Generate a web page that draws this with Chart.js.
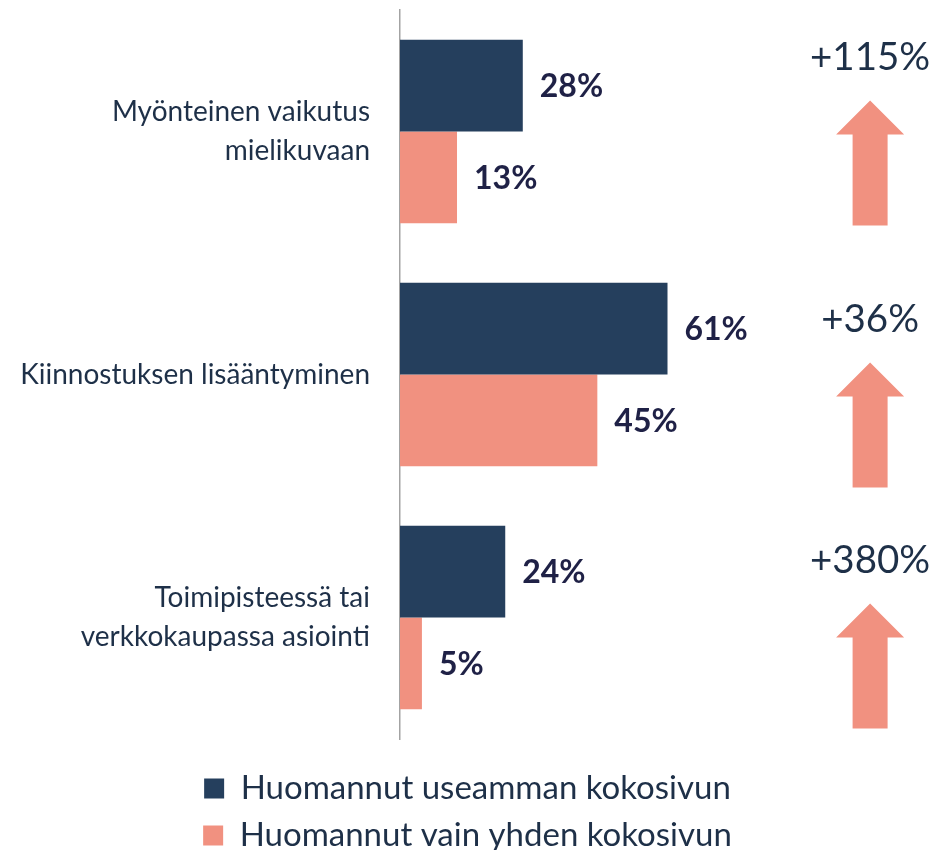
<!DOCTYPE html>
<html>
<head>
<meta charset="utf-8">
<script src="https://cdn.jsdelivr.net/npm/chart.js@4/dist/chart.umd.min.js"></script>
<style>
  html, body { margin: 0; padding: 0; background: #fff; overflow: hidden; }
  #wrap { width: 935px; height: 862px; position: relative; }
</style>
</head>
<body>
<div id="wrap"><canvas id="chart"></canvas></div>
<script>
const categories = [
    ['Myönteinen vaikutus', 'mielikuvaan'],
    'Kiinnostuksen lisääntyminen',
    ['Toimipisteessä tai', 'verkkokaupassa asiointi']
];
const manyPages = [28, 61, 24];
const onePage = [13, 45, 5];
const changeLabels = ['+115%', '+36%', '+380%'];
const seriesNames = ['Huomannut useamman kokosivun', 'Huomannut vain yhden kokosivun'];

const NAVY = '#253f5d';
const SALMON = '#f19180';
const TEXT = '#1e3048';
const FONT = 'Lato, "Noto Sans", sans-serif';

// bold percentage next to each bar
const valueLabels = {
    id: 'valueLabels',
    afterDatasetsDraw(chart) {
        const ctx = chart.ctx;
        ctx.save();
        ctx.font = 'bold 32px ' + FONT;
        ctx.fillStyle = '#1f2146';
        ctx.textAlign = 'left';
        ctx.textBaseline = 'middle';
        chart.data.datasets.forEach((ds, i) => {
            chart.getDatasetMeta(i).data.forEach((bar, j) => {
                ctx.fillText(ds.data[j] + '%', bar.x + 17, bar.y + 1);
            });
        });
        ctx.restore();
    }
};

// change text and up arrows on the right
const changeArrows = {
    id: 'changeArrows',
    afterDraw(chart) {
        const ctx = chart.ctx;
        const x = chart.scales.x.getPixelForValue(107.2);
        const yScale = chart.scales.y;
        // first group sits a bit higher than the other two
        const shift = [-19, 0, -2];
        ctx.save();
        changeLabels.forEach((txt, i) => {
            const cy = yScale.getPixelForValue(i) + shift[i];
            ctx.font = '38.5px ' + FONT;
            ctx.fillStyle = TEXT;
            ctx.textAlign = 'center';
            ctx.textBaseline = 'alphabetic';
            ctx.fillText(txt, x, cy - 43);

            const top = cy - 12, headBase = top + 34, bottom = top + 125;
            ctx.fillStyle = SALMON;
            ctx.beginPath();
            ctx.moveTo(x, top);
            ctx.lineTo(x + 34, headBase);
            ctx.lineTo(x + 17.5, headBase);
            ctx.lineTo(x + 17.5, bottom);
            ctx.lineTo(x - 17.5, bottom);
            ctx.lineTo(x - 17.5, headBase);
            ctx.lineTo(x - 34, headBase);
            ctx.closePath();
            ctx.fill();
        });
        ctx.restore();
    }
};

new Chart(document.getElementById('chart'), {
    type: 'bar',
    data: {
        labels: categories,
        datasets: [
            { label: seriesNames[0], data: manyPages, backgroundColor: NAVY },
            { label: seriesNames[1], data: onePage, backgroundColor: SALMON }
        ]
    },
    options: {
        indexAxis: 'y',
        responsive: true,
        maintainAspectRatio: false,
        animation: false,
        layout: { padding: { top: 10, right: 0, left: 0, bottom: 0 } },
        datasets: { bar: { categoryPercentage: 0.755, barPercentage: 1 } },
        scales: {
            x: {
                min: 0,
                max: 122,
                ticks: { display: false },
                grid: { display: false, drawTicks: false },
                border: { display: false },
                afterFit(scale) { scale.height = 19; }
            },
            y: {
                grid: { display: false, drawTicks: false },
                border: { display: true, color: '#a3a3a3', width: 1.5 },
                ticks: {
                    padding: 30,
                    color: TEXT,
                    font: { family: FONT, size: 28, lineHeight: 1.4 }
                },
                afterFit(scale) {
                    scale.width = 400;
                    scale.paddingTop = 0;
                    scale.paddingBottom = 0;
                }
            }
        },
        plugins: {
            legend: {
                position: 'bottom',
                labels: {
                    boxWidth: 20,
                    boxHeight: 20,
                    padding: 14,
                    color: TEXT,
                    font: { family: FONT, size: 33 }
                }
            },
            tooltip: { enabled: false }
        }
    },
    plugins: [valueLabels, changeArrows]
});
</script>
</body>
</html>
